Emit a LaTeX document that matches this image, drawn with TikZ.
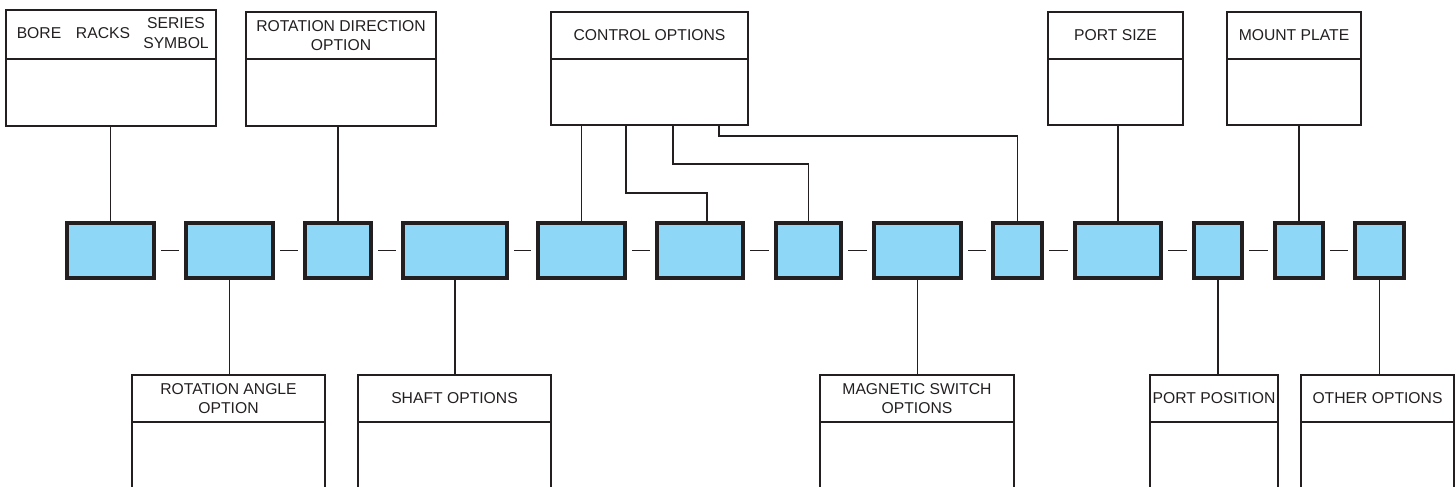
\documentclass[tikz,border=0pt]{standalone}
\usepackage{fontspec}
\setmainfont{Liberation Sans}
\usepackage{tikz}
\usetikzlibrary{positioning}
\definecolor{slotblue}{RGB}{142,215,246}
\definecolor{inkgray}{RGB}{35,31,32}
\tikzset{
    headbox/.style={draw=inkgray, line width=1.5pt, outer sep=0pt, inner sep=0pt,
        anchor=north west, align=center, text=inkgray, font=\fontsize{15.7}{19}\selectfont},
    bodybox/.style={draw=inkgray, line width=1.5pt, outer sep=0pt, inner sep=0pt},
    txt/.style={text=inkgray, align=center, inner sep=0pt, font=\fontsize{15.7}{20}\selectfont},
    slot/.style={draw=inkgray, fill=slotblue, line width=3.3pt, outer sep=0pt, inner sep=0pt,
        minimum height=55pt, anchor=west},
    link/.style={draw=inkgray, line width=1.5pt},
    gapline/.style={draw=inkgray, line width=1.6pt, shorten <=7pt, shorten >=7pt},
}
\begin{document}
\begin{tikzpicture}[x=1pt, y=-1pt]
		\clip (0,0) rectangle (1456,487);
		% upper boxes
		\node[headbox, minimum width=210, minimum height=49] (boreh) at (6,10) {};
		\node[bodybox, minimum width=210, minimum height=67, below=0pt of boreh] (bore) {};
		\node[txt] (boretxt) at (39,33.5) {BORE};
		\node[txt] (rackstxt) at (103,33.5) {RACKS};
		\node[txt] (seriestxt) at (176,33.5) {SERIES\\SYMBOL};
		\node[headbox, minimum width=190, minimum height=47] (rotdirh) at (246,12) {ROTATION DIRECTION\\OPTION};
		\node[bodybox, minimum width=190, minimum height=67, below=0pt of rotdirh] (rotdir) {};
		\node[headbox, minimum width=197, minimum height=47] (ctrlh) at (551,12) {CONTROL OPTIONS};
		\node[bodybox, minimum width=197, minimum height=66, below=0pt of ctrlh] (ctrl) {};
		\node[headbox, minimum width=135, minimum height=47] (sizeh) at (1048,12) {PORT SIZE};
		\node[bodybox, minimum width=135, minimum height=66, below=0pt of sizeh] (size) {};
		\node[headbox, minimum width=134, minimum height=47] (mounth) at (1227,12) {MOUNT PLATE};
		\node[bodybox, minimum width=134, minimum height=66, below=0pt of mounth] (mount) {};
		%
		% code slots
		\node[slot, minimum width=87] (s1) at (67,250.5) {};
		\node[slot, minimum width=87] (s2) at (186,250.5) {};
		\node[slot, minimum width=66] (s3) at (305,250.5) {};
		\node[slot, minimum width=104] (s4) at (403,250.5) {};
		\node[slot, minimum width=87] (s5) at (538,250.5) {};
		\node[slot, minimum width=86] (s6) at (657,250.5) {};
		\node[slot, minimum width=65] (s7) at (776,250.5) {};
		\node[slot, minimum width=87] (s8) at (874,250.5) {};
		\node[slot, minimum width=49] (s9) at (993,250.5) {};
		\node[slot, minimum width=86] (s10) at (1075,250.5) {};
		\node[slot, minimum width=48] (s11) at (1194,250.5) {};
		\node[slot, minimum width=48] (s12) at (1275,250.5) {};
		\node[slot, minimum width=49] (s13) at (1355,250.5) {};
		%
		\draw[gapline] (s1.east) -- (s2.west);
		\draw[gapline] (s2.east) -- (s3.west);
		\draw[gapline] (s3.east) -- (s4.west);
		\draw[gapline] (s4.east) -- (s5.west);
		\draw[gapline] (s5.east) -- (s6.west);
		\draw[gapline] (s6.east) -- (s7.west);
		\draw[gapline] (s7.east) -- (s8.west);
		\draw[gapline] (s8.east) -- (s9.west);
		\draw[gapline] (s9.east) -- (s10.west);
		\draw[gapline] (s10.east) -- (s11.west);
		\draw[gapline] (s11.east) -- (s12.west);
		\draw[gapline] (s12.east) -- (s13.west);
		%
		% lower boxes
		\node[headbox, minimum width=193, minimum height=47] (angleh) at (132,375) {ROTATION ANGLE\\OPTION};
		\node[bodybox, minimum width=193, minimum height=90, below=0pt of angleh] (angle) {};
		\node[headbox, minimum width=193, minimum height=47] (shafth) at (358,375) {SHAFT OPTIONS};
		\node[bodybox, minimum width=193, minimum height=90, below=0pt of shafth] (shaft) {};
		\node[headbox, minimum width=194, minimum height=47] (switchh) at (820,375) {MAGNETIC SWITCH\\OPTIONS};
		\node[bodybox, minimum width=194, minimum height=90, below=0pt of switchh] (switch) {};
		\node[headbox, minimum width=128, minimum height=47] (posh) at (1150,375) {PORT POSITION};
		\node[bodybox, minimum width=128, minimum height=90, below=0pt of posh] (pos) {};
		\node[headbox, minimum width=153, minimum height=47] (otherh) at (1301,375) {OTHER OPTIONS};
		\node[bodybox, minimum width=153, minimum height=90, below=0pt of otherh] (other) {};
		%
		% connectors up
		\draw[link] (s1.north |- bore.south) -- (s1.north);
		\draw[link] (s3.north |- rotdir.south) -- (s3.north);
		\draw[link] (s5.north |- ctrl.south) -- (s5.north);
		\coordinate (ctrlB) at (626,125);
		\coordinate (ctrlC) at (673,125);
		\coordinate (ctrlD) at (719,125);
		\draw[link] (ctrlB) -- ++(0,68) -| ([xshift=7pt]s6.north);
		\draw[link] (ctrlC) -- ++(0,39) -| (s7.north);
		\draw[link] (ctrlD) -- ++(0,11) -| (s9.north);
		\draw[link] (s10.north |- size.south) -- (s10.north);
		\draw[link] (s12.north |- mount.south) -- (s12.north);
		%
		% connectors down
		\draw[link] (s2.south) -- (s2.south |- angleh.north);
		\draw[link] (s4.south) -- (s4.south |- shafth.north);
		\draw[link] (s8.south) -- (s8.south |- switchh.north);
		\draw[link] (s11.south) -- (s11.south |- posh.north);
		\draw[link] (s13.south) -- (s13.south |- otherh.north);
	\end{tikzpicture}
\end{document}
